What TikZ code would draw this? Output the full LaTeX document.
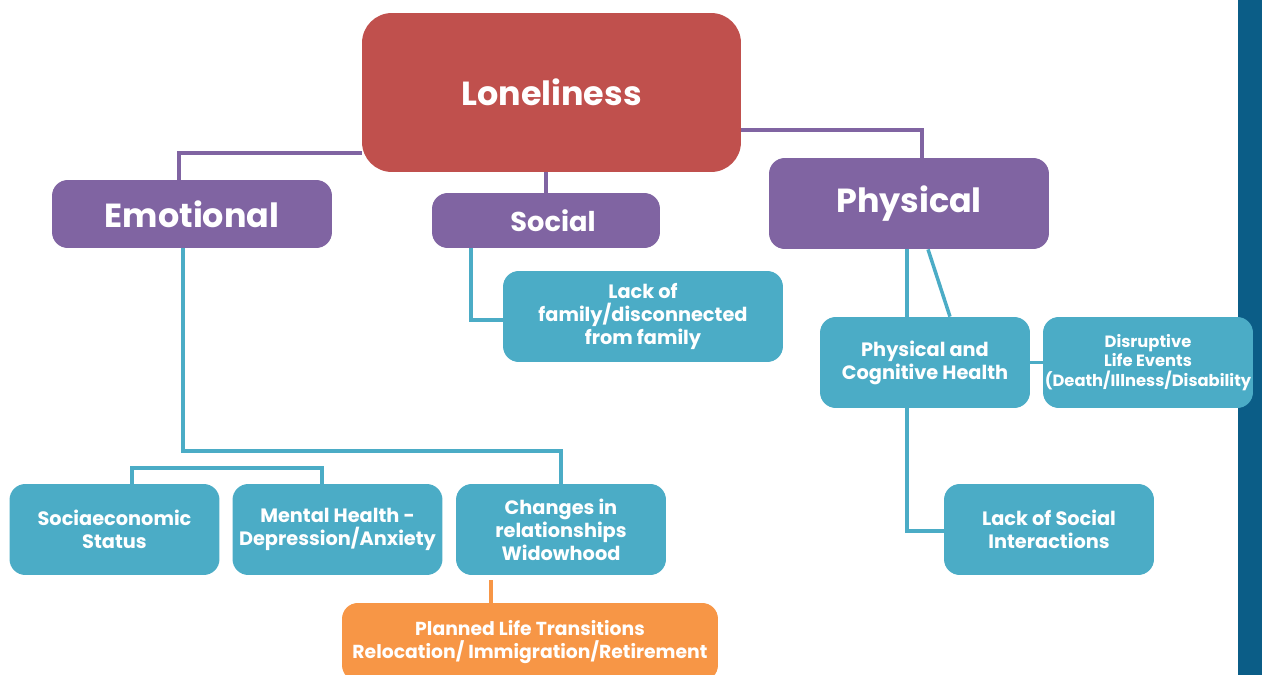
\documentclass[tikz,border=0pt]{standalone}
\usepackage{fontspec}
\setmainfont{Poppins}
\usepackage{tikz}
\usetikzlibrary{positioning}

\definecolor{loneRed}{HTML}{C0504D}
\definecolor{catPurple}{HTML}{8064A2}
\definecolor{itemTeal}{HTML}{4BACC6}
\definecolor{planOrange}{HTML}{F79646}
\definecolor{edgeBlue}{HTML}{0B5D87}

\tikzset{
  box/.style={rounded corners=9pt, text=white, align=center, inner sep=0pt, font=\bfseries},
  rootbox/.style={box, fill=loneRed, rounded corners=17pt, font=\fontsize{19}{23}\selectfont\bfseries},
  catbox/.style={box, fill=catPurple, font=\fontsize{19}{23}\selectfont\bfseries},
  itembox/.style={box, fill=itemTeal, minimum width=4.2cm, minimum height=1.82cm, font=\fontsize{11}{13}\selectfont\bfseries},
  planbox/.style={box, fill=planOrange, font=\fontsize{10.7}{13}\selectfont\bfseries},
  catline/.style={draw=catPurple, line width=2pt},
  itemline/.style={draw=itemTeal, line width=2pt},
  planline/.style={draw=planOrange, line width=2.4pt}
}

\begin{document}
\begin{tikzpicture}[x=0.02cm,y=-0.02cm]
  \useasboundingbox (0,0) rectangle (1262,675);
  \fill[edgeBlue] (1238,0) rectangle (1262,675);

  % top and the three kinds
  \node[rootbox, minimum width=7.58cm, minimum height=3.18cm] (lone) at (551.5,92.5) {Loneliness};
  \node[catbox, minimum width=5.6cm, minimum height=1.36cm] (emo) at (192,214) {Emotional};
  \node[catbox, minimum width=4.56cm, minimum height=1.1cm, font=\fontsize{15.5}{19}\selectfont\bfseries] (soc) at (546,220.5) {\hspace{0.28cm}Social};
  \node[catbox, minimum width=5.6cm, minimum height=1.82cm] (phys) at (909,203.5) {Physical};

  % causes
  \node[itembox, minimum width=5.6cm] (family) at (643,316.5) {Lack of\\family/disconnected\\from family};
  \node[itembox] (pch) at (925,362.5) {Physical and\\Cognitive Health};
  \node[itembox, font=\fontsize{9.3}{11}\selectfont\bfseries] (disr) at (1148,362.5) {Disruptive\\Life Events\\(Death/Illness/Disability};
  \node[itembox] (lsi) at (1049,529.5) {Lack of Social\\Interactions};
  \node[itembox] (ses) at (114.5,529.5) {Sociaeconomic\\Status};
  \node[itembox] (mh) at (337.5,529.5) {Mental Health -\\Depression/Anxiety};
  \node[itembox] (chg) at (561,529.5) {Changes in\\relationships\\Widowhood};
  \node[planbox, minimum width=7.52cm, minimum height=1.56cm] (plan) at (530,642) {Planned Life Transitions\\Relocation/ Immigration/Retirement};

  % purple links
  \coordinate (emoTurn) at (179,153);
  \coordinate (physTurn) at (922,130);
  \draw[catline] (lone.west |- emoTurn) -- (emoTurn) -- (emoTurn |- emo.north);
  \draw[catline] (soc.north |- lone.south) -- (soc.north);
  \draw[catline] (lone.east |- physTurn) -- (physTurn) -- (physTurn |- phys.north);

  % teal links
  \coordinate (emoTurn2) at (183,451);
  \draw[itemline] (emoTurn2 |- emo.south) -- (emoTurn2) -- (emoTurn2 -| chg.north) -- (chg.north);
  \coordinate (sesTurn) at (132,468);
  \coordinate (mhTurn) at (322,468);
  \draw[itemline] (sesTurn |- ses.north) -- (sesTurn) -- (mhTurn) -- (mhTurn |- mh.north);
  \coordinate (socTurn) at (471,320);
  \draw[itemline] (socTurn |- soc.south) -- (socTurn) -- (family.west |- socTurn);
  \coordinate (physLeg) at (907,260);
  \draw[itemline] (physLeg |- phys.south) -- (physLeg |- pch.north);
  \coordinate (diagTop) at (928,249);
  \coordinate (diagBot) at (950,317);
  \draw[itemline] (diagTop |- phys.south) -- (diagBot |- pch.north);
  \draw[itemline] (pch.east) -- (disr.west);
  \coordinate (pchTurn) at (907,531);
  \draw[itemline] (pchTurn |- pch.south) -- (pchTurn) -- (lsi.west |- pchTurn);

  % orange link
  \coordinate (chgLeg) at (491,590);
  \draw[planline, shorten <=0.1cm] (chgLeg |- chg.south) -- (chgLeg |- plan.north);
\end{tikzpicture}
\end{document}
